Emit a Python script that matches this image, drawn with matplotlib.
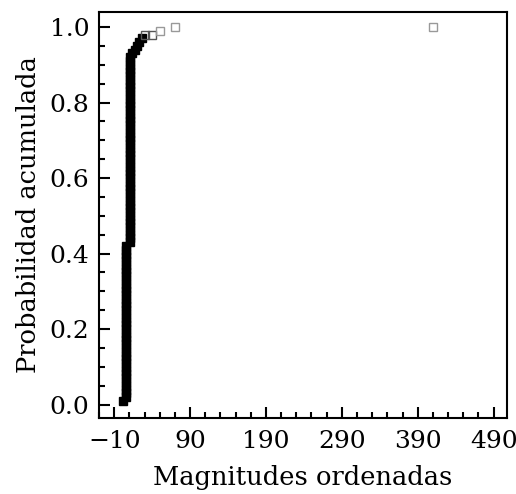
import numpy as np
import matplotlib
matplotlib.use("Agg")
import matplotlib.pyplot as plt
from matplotlib.ticker import MultipleLocator, FixedLocator

# Filled (inlier) ordered magnitudes: value and how many observations share it
inlier_values = [1, 5, 11, 14, 17, 20, 23, 26]
inlier_counts = [1, 41, 50, 1, 1, 1, 1, 1]

# Hollow (outlier) points
outlier_x = [30, 40, 50, 70, 410]
outlier_y = [0.98, 0.98, 0.99, 1.0, 1.0]
outlier_edges = ["#555555", "#555555", "#999999", "#999999", "#999999"]

n_total = 100
x_ticks = [-10, 90, 190, 290, 390, 490]
y_ticks = [0.0, 0.2, 0.4, 0.6, 0.8, 1.0]

plt.rcParams["font.family"] = ["DejaVu Serif"]

fig = plt.figure(figsize=(5.16, 4.94), dpi=100)
ax = fig.add_axes([0.192, 0.154, 0.791, 0.822])

inlier_x = np.repeat(inlier_values, inlier_counts)
inlier_y = np.arange(1, len(inlier_x) + 1) / n_total

ax.plot(inlier_x, inlier_y, linestyle="none", marker="s", markersize=6.3,
        color="black", markeredgecolor="black")
for xv, yv, ec in zip(outlier_x, outlier_y, outlier_edges):
    ax.plot([xv], [yv], linestyle="none", marker="s", markersize=6,
            markerfacecolor="none", markeredgecolor=ec, markeredgewidth=1.0)

ax.set_xlim(-30, 508)
ax.set_ylim(-0.035, 1.04)
ax.xaxis.set_major_locator(FixedLocator(x_ticks))
ax.xaxis.set_minor_locator(MultipleLocator(20, offset=10))
ax.yaxis.set_major_locator(FixedLocator(y_ticks))
ax.yaxis.set_minor_locator(MultipleLocator(0.05))

ax.tick_params(which="major", direction="in", length=8, width=1.5, labelsize=18)
ax.tick_params(axis="x", which="major", pad=9)
ax.tick_params(axis="y", which="major", pad=7)
ax.tick_params(which="minor", direction="in", length=4.5, width=1.5)
ax.tick_params(axis="both", which="both", top=False, right=False)
for s in ax.spines.values():
    s.set_linewidth(1.5)

ax.set_xlabel("Magnitudes ordenadas", fontsize=18.5, labelpad=8)
ax.set_ylabel("Probabilidad acumulada", fontsize=18.5, labelpad=6)

fig.savefig("out.png", dpi=100)
